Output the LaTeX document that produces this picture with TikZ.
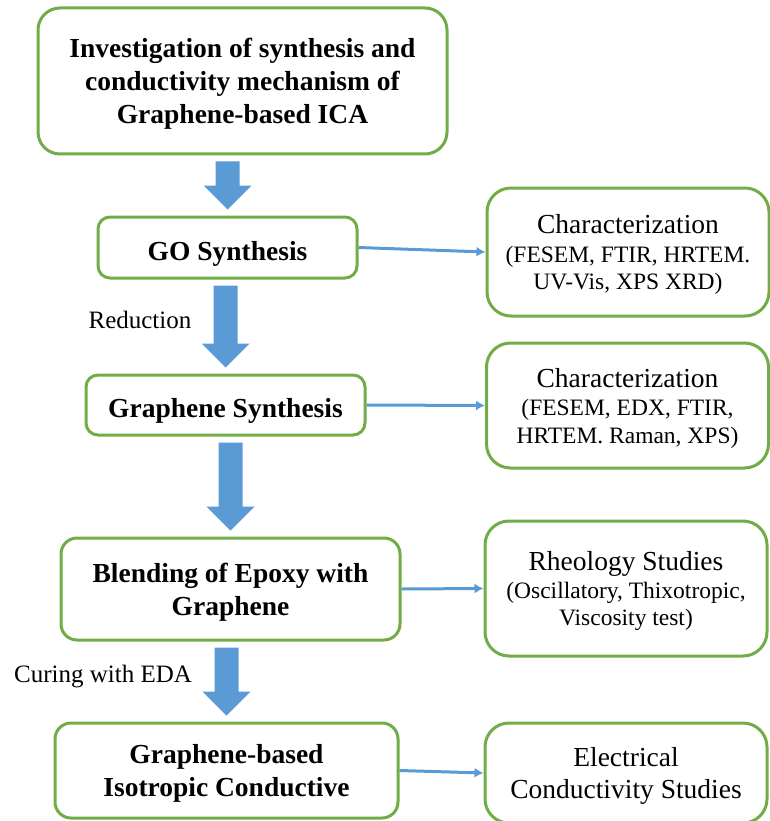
\documentclass[tikz,border=0pt]{standalone}
\usepackage{fontspec}
\setmainfont{Liberation Serif}
\usetikzlibrary{calc, arrows.meta}
\definecolor{boxgreen}{RGB}{112,173,71}
\definecolor{arrowblue}{RGB}{91,155,213}
\tikzset{>={Latex[length=9pt,width=10pt]}}
\tikzset{every text node part/.style={align=center}}
\tikzset{
	mainbox/.style={draw=boxgreen, line width=3pt, fill=white, inner sep=0pt, text depth=0pt,
		execute at begin node={\rule{0pt}{25pt}},
		font=\fontsize{27.5}{33}\selectfont\bfseries},
	sidebox/.style={draw=boxgreen, line width=3pt, fill=white, inner sep=0pt, text depth=0pt,
		execute at begin node={\rule{0pt}{25pt}},
		rounded corners=24pt, minimum width=282pt, font=\fontsize{23.5}{27.5}\selectfont},
	steplabel/.style={inner sep=0pt, font=\fontsize{25}{30}\selectfont},
	thinarrow/.style={->, draw=arrowblue, line width=3pt}
}
\newcommand{\headline}[1]{{\fontsize{27.5}{33}\selectfont #1}}
\newcommand{\bigarrow}[2]{%
	\fill[arrowblue] let \p1=(#1.south), \p2=(#2.north) in
		(\x2-12pt,\y1-6pt) -- (\x2+12pt,\y1-6pt) -- (\x2+12pt,\y2+30pt)
		-- (\x2+24pt,\y2+30pt) -- (\x2,\y2+6pt) -- (\x2-24pt,\y2+30pt)
		-- (\x2-12pt,\y2+30pt) -- cycle;
}

\begin{document}
\begin{tikzpicture}[x=1pt, y=-1pt, line join=round]
	\useasboundingbox (0,0) rectangle (770,821);

	% Main column
	\node[mainbox, minimum width=409pt, minimum height=146pt, rounded corners=22pt] (top) at (242.5,81)
		{Investigation of synthesis and\\conductivity mechanism of\\Graphene-based ICA};
	\node[mainbox, minimum width=259pt, minimum height=61pt, rounded corners=12pt] (go) at (227.5,247.5)
		{GO Synthesis};
	\node[mainbox, minimum width=279pt, minimum height=60pt, rounded corners=12pt] (gr) at (225.5,405)
		{Graphene Synthesis};
	\node[mainbox, minimum width=339pt, minimum height=102pt, rounded corners=16pt] (blend) at (230.5,589)
		{Blending of Epoxy with\\Graphene};
	\node[mainbox, minimum width=343pt, minimum height=95pt, rounded corners=16pt] (ica) at (226.5,770.5)
		{Graphene-based\\Isotropic Conductive};

	% Side boxes
	\node[sidebox, minimum height=128pt] (charA) at (628,252)
		{\headline{Characterization}\\[1pt](FESEM, FTIR, HRTEM.\\UV-Vis, XPS XRD)};
	\node[sidebox, minimum height=125pt] (charB) at (627.5,405.5)
		{\headline{Characterization}\\[1pt](FESEM, EDX, FTIR,\\HRTEM. Raman, XPS)};
	\node[sidebox, minimum height=135pt] (rheo) at (626,588.5)
		{\headline{Rheology Studies}\\(Oscillatory, Thixotropic,\\Viscosity test)};
	\node[sidebox, minimum height=100pt] (elec) at (626,773)
		{\headline{Electrical}\\[4pt]\headline{Conductivity Studies}};

	% Step labels
	\node[steplabel] (red) at (140,320) {Reduction};
	\node[steplabel] (cure) at (103,677) {Curing with EDA};

	% Block arrows
	\bigarrow{top}{go}
	\bigarrow{go}{gr}
	\bigarrow{gr}{blend}
	\bigarrow{blend}{ica}

	% Thin arrows
	\draw[thinarrow] (go.east) -- (charA.west);
	\draw[thinarrow] (gr.east) -- (charB.west);
	\draw[thinarrow] (blend.east) -- (rheo.west);
	\draw[thinarrow] (ica.east) -- (elec.west);
\end{tikzpicture}
\end{document}
